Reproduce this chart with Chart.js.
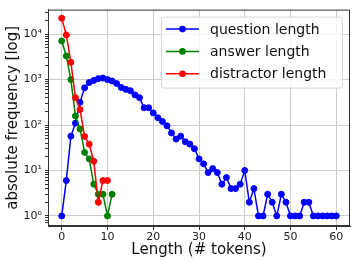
<!DOCTYPE html>
<html>
<head>
<meta charset="utf-8">
<script src="https://cdn.jsdelivr.net/npm/chart.js@4"></script>
<style>
  html, body { margin: 0; padding: 0; background: #fff; }
  #wrap { width: 357px; height: 260px; }
</style>
</head>
<body>
<div id="wrap"><canvas id="chartCanvas" width="357" height="260"></canvas></div>
<script>
"use strict";

// token lengths and counts
const questionCounts = [1, 6, 57, 110, 316, 660, 860, 960, 1050, 1080,
    1000, 935, 820, 670, 610, 570, 460, 400, 240, 240,
    185, 145, 120, 96, 67, 49, 57, 43, 38, 30,
    18, 14, 9, 11, 9, 5, 7, 4, 4, 5,
    10, 2, 4, 1, 1, 3, 2, 1, 3, 2,
    1, 1, 1, 2, 2, 1, 1, 1, 1, 1, 1];
const answerCounts = [7100, 3300, 1000, 158, 82, 25, 18, 5, 3, 3, 1, 3];
const distractorCounts = [22400, 9600, 2400, 400, 220, 56, 38, 16, 2, 6, 6];

const seriesLabels = ['question length', 'answer length', 'distractor length'];
const seriesColors = ['#0000ff', '#008000', '#ff0000'];

const xTicks = [0, 10, 20, 30, 40, 50, 60];
const yMajor = [1, 10, 100, 1000, 10000];

const FONT = 'DejaVu Sans';
const sup = ['\u2070', '\u00b9', '\u00b2', '\u00b3', '\u2074'];

function toPoints(arr) {
    return arr.map((v, i) => ({ x: i, y: v }));
}

// minor ticks 2..9 per decade
const yTicks = [];
for (let d = 0.1; d <= 10000; d *= 10) {
    for (let m = 1; m < 10; m++) {
        const v = Math.round(d * m * 1000) / 1000;
        if (v >= 0.61 && v <= 34700) yTicks.push(v);
    }
}
function isMajor(v) {
    return yMajor.some(m => Math.abs(m - v) < 1e-6);
}

const boxAndLegend = {
    id: 'boxAndLegend',
    afterDatasetsDraw(chart) {
        const ctx = chart.ctx;
        const a = chart.chartArea;
        ctx.save();
        // full frame
        ctx.strokeStyle = '#333';
        ctx.lineWidth = 1;
        ctx.strokeRect(a.left + 0.5, a.top + 0.5, a.right - a.left - 1, a.bottom - a.top - 1);

        // legend box
        const bx = a.right - 189, by = a.top + 7, bw = 181, bh = 71;
        ctx.beginPath();
        ctx.roundRect(bx + 0.5, by + 0.5, bw, bh, 3);
        ctx.fillStyle = 'rgba(255,255,255,0.8)';
        ctx.fill();
        ctx.strokeStyle = '#d6d6d6';
        ctx.stroke();

        ctx.font = '14px "' + FONT + '"';
        ctx.textBaseline = 'middle';
        seriesLabels.forEach((lab, i) => {
            const y = by + 12.5 + i * 22.3;
            ctx.strokeStyle = seriesColors[i];
            ctx.lineWidth = 1.5;
            ctx.beginPath();
            ctx.moveTo(bx + 5, y);
            ctx.lineTo(bx + 38, y);
            ctx.stroke();
            ctx.fillStyle = seriesColors[i];
            ctx.beginPath();
            ctx.arc(bx + 21.5, y, 3.3, 0, Math.PI * 2);
            ctx.fill();
            ctx.fillStyle = '#111';
            ctx.fillText(lab, bx + 49, y + 1);
        });
        ctx.restore();
    }
};

const datasets = [questionCounts, answerCounts, distractorCounts].map((arr, i) => ({
    label: seriesLabels[i],
    data: toPoints(arr),
    borderColor: seriesColors[i],
    backgroundColor: seriesColors[i],
    borderWidth: 1.5,
    pointRadius: 3,
    pointBorderWidth: 1,
    pointHoverRadius: 3,
    tension: 0,
    order: 2 - i
}));

new Chart(document.getElementById('chartCanvas'), {
    type: 'line',
    data: { datasets: datasets },
    plugins: [boxAndLegend],
    options: {
        responsive: false,
        animation: false,
        devicePixelRatio: 1,
        layout: { padding: { top: 4, right: 7, left: 0, bottom: 0 } },
        plugins: {
            legend: { display: false },
            tooltip: { enabled: false }
        },
        scales: {
            x: {
                type: 'linear',
                min: -3,
                max: 63,
                afterBuildTicks: s => { s.ticks = xTicks.map(v => ({ value: v })); },
                afterFit: s => { s.height = 34; },
                grid: { color: '#cccccc', lineWidth: 1, tickLength: 4, tickColor: '#333' },
                border: { color: '#333', width: 1 },
                ticks: {
                    maxRotation: 0,
                    autoSkip: false,
                    padding: 1,
                    color: '#222',
                    font: { family: FONT, size: 11 }
                },
                title: {
                    display: true,
                    text: 'Length (# tokens)',
                    color: '#111',
                    padding: { top: 0, bottom: 1 },
                    font: { family: FONT, size: 15 }
                }
            },
            y: {
                type: 'logarithmic',
                min: 0.61,
                max: 34700,
                afterBuildTicks: s => { s.ticks = yTicks.map(v => ({ value: v, major: isMajor(v) })); },
                afterFit: s => { s.width = 48; },
                grid: {
                    color: c => (c.tick && isMajor(c.tick.value)) ? '#cccccc' : 'rgba(0,0,0,0)',
                    tickColor: '#333',
                    tickLength: 3,
                    lineWidth: 1
                },
                border: { color: '#333', width: 1 },
                ticks: {
                    autoSkip: false,
                    padding: 3,
                    color: '#222',
                    font: { family: FONT, size: 11 },
                    callback: v => {
                        const k = yMajor.findIndex(m => Math.abs(m - v) < 1e-6);
                        return k >= 0 ? '10' + sup[k] : '';
                    }
                },
                title: {
                    display: true,
                    text: 'absolute frequency [log]',
                    color: '#111',
                    padding: { top: 4, bottom: 0 },
                    font: { family: FONT, size: 15 }
                }
            }
        }
    }
});
</script>
</body>
</html>
